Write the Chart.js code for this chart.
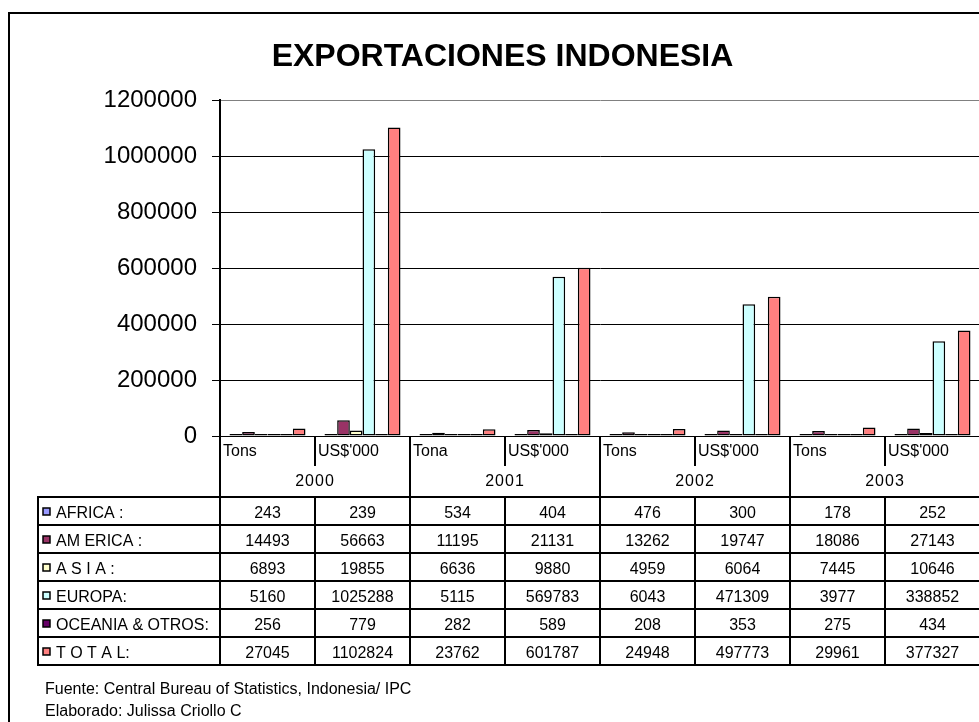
<!DOCTYPE html>
<html lang="es">
<head>
<meta charset="utf-8">
<title>Exportaciones Indonesia</title>
<script src="https://cdn.jsdelivr.net/npm/chart.js@4/dist/chart.umd.min.js"></script>
<style>
  html, body { margin: 0; padding: 0; background: #fff; overflow: hidden; }
  #contenedor { width: 1000px; height: 722px; }
</style>
</head>
<body>
<div id="contenedor"><canvas id="grafico"></canvas></div>
<script>
const categorias = ['Tons', "US$'000", 'Tona', "US$'000", 'Tons', "US$'000", 'Tons', "US$'000"];
const anios = ['2000', '2001', '2002', '2003'];
const nombresFila = ['AFRICA :', 'AM ERICA :', 'A S I A :', 'EUROPA:', 'OCEANIA & OTROS:', 'T O T A L:'];
const africa = [243, 239, 534, 404, 476, 300, 178, 252];
const america = [14493, 56663, 11195, 21131, 13262, 19747, 18086, 27143];
const asia = [6893, 19855, 6636, 9880, 4959, 6064, 7445, 10646];
const europa = [5160, 1025288, 5115, 569783, 6043, 471309, 3977, 338852];
const oceania = [256, 779, 282, 589, 208, 353, 275, 434];
const total = [27045, 1102824, 23762, 601787, 24948, 497773, 29961, 377327];
const ticksY = [0, 200000, 400000, 600000, 800000, 1000000, 1200000];
const fuentes = ['Fuente: Central Bureau of Statistics, Indonesia/ IPC', 'Elaborado: Julissa Criollo C'];

const colores = ['#9999FF', '#993366', '#FFFFCC', '#CCFFFF', '#660066', '#FF8080'];
const series = [africa, america, asia, europa, oceania, total];
const FUENTE = '"Liberation Sans", Arial, sans-serif';

Chart.defaults.font.family = FUENTE;
Chart.defaults.color = '#000';

//Tabla de datos debajo del eje y marco exterior
const tablaDatos = {
    id: 'tablaDatos',
    beforeDraw(chart) {
        const { ctx } = chart;
        ctx.save();
        ctx.strokeStyle = '#000';
        ctx.lineWidth = 2;
        ctx.strokeRect(9, 13, chart.width, chart.height);
        ctx.restore();
    },
    afterDraw(chart) {
        const { ctx, chartArea: { left, right, bottom } } = chart;
        const x = chart.scales.x;
        const anchoCol = (right - left) / categorias.length;
        const yAnio = bottom + 30;
        const yTabla = bottom + 61;
        const altoFila = 28;
        const yFin = yTabla + altoFila * nombresFila.length;
        const xLeyenda = 38;

        ctx.save();
        ctx.strokeStyle = '#000';
        ctx.lineWidth = 2;
        ctx.beginPath();
        for (let i = 0; i <= categorias.length; i++) {
            const xl = Math.round(left + i * anchoCol);
            if (i % 2 === 0) {
                ctx.moveTo(xl, bottom); ctx.lineTo(xl, yFin);
            } else {
                ctx.moveTo(xl, bottom); ctx.lineTo(xl, yAnio);
                ctx.moveTo(xl, yTabla); ctx.lineTo(xl, yFin);
            }
        }
        ctx.moveTo(xLeyenda, yTabla); ctx.lineTo(xLeyenda, yFin);
        for (let r = 0; r <= nombresFila.length; r++) {
            const yl = yTabla + r * altoFila;
            ctx.moveTo(xLeyenda - 1, yl); ctx.lineTo(right, yl);
        }
        ctx.stroke();

        ctx.fillStyle = '#000';
        ctx.textBaseline = 'alphabetic';
        ctx.font = `16px ${FUENTE}`;
        ctx.textAlign = 'left';
        categorias.forEach((cat, i) => {
            const centro = x.getPixelForValue(i);
            ctx.fillText(cat, centro - anchoCol / 2 + 3, bottom + 20);
        });
        ctx.textAlign = 'center';
        ctx.letterSpacing = '1px';
        anios.forEach((anio, k) => {
            const centro = (x.getPixelForValue(2 * k) + x.getPixelForValue(2 * k + 1)) / 2;
            ctx.fillText(anio, centro, bottom + 50);
        });
        ctx.letterSpacing = '0px';

        chart.data.datasets.forEach((ds, r) => {
            const yf = yTabla + r * altoFila;
            ctx.textAlign = 'center';
            ds.data.forEach((v, i) => {
                ctx.fillText(String(v), x.getPixelForValue(i), yf + 21);
            });
            ctx.fillStyle = colores[r];
            ctx.fillRect(43, yf + 11, 7, 7);
            ctx.lineWidth = 1.5;
            ctx.strokeRect(43, yf + 11, 7, 7);
            ctx.fillStyle = '#000';
            ctx.textAlign = 'left';
            ctx.fillText(nombresFila[r], 56, yf + 21);
        });

        ctx.font = `16px ${FUENTE}`;
        ctx.textAlign = 'left';
        fuentes.forEach((linea, k) => {
            ctx.fillText(linea, 45, yFin + 29 + k * 22);
        });
        ctx.restore();
    }
};

const ctx = document.getElementById('grafico').getContext('2d');

const data = {
    labels: categorias,
    datasets: series.map((valores, r) => ({
        label: nombresFila[r],
        data: valores,
        backgroundColor: colores[r],
        borderColor: '#000',
        borderWidth: 1.5,
        borderSkipped: false,
        minBarLength: 2
    }))
};

const config = {
    type: 'bar',
    data: data,
    options: {
        responsive: true,
        maintainAspectRatio: false,
        animation: false,
        datasets: {
            bar: { categoryPercentage: 0.8, barPercentage: 1 }
        },
        layout: {
            padding: { left: 25, right: 20, top: 0, bottom: 286 }
        },
        plugins: {
            legend: { display: false },
            tooltip: { enabled: false },
            title: {
                display: true,
                text: 'EXPORTACIONES INDONESIA',
                color: '#000',
                font: { size: 32, weight: 'bold', lineHeight: 1.2 },
                padding: { top: 38, bottom: 24 }
            }
        },
        scales: {
            x: {
                ticks: { display: false },
                grid: { display: false },
                border: { display: false },
                afterFit: (escala) => { escala.height = 0; }
            },
            y: {
                min: 0,
                max: 1200000,
                afterBuildTicks: (escala) => { escala.ticks = ticksY.map(v => ({ value: v })); },
                afterFit: (escala) => { escala.width = 195; },
                ticks: {
                    font: { size: 24 },
                    color: '#000',
                    padding: 15,
                    callback: (valor) => String(valor)
                },
                grid: {
                    color: (c) => c.tick && c.tick.value === 1200000 ? '#808080' : '#000',
                    lineWidth: 1,
                    tickLength: 8,
                    tickColor: '#000'
                },
                border: { color: '#000', width: 2 }
            }
        }
    },
    plugins: [tablaDatos]
};

const grafico = new Chart(ctx, config);
</script>
</body>
</html>
